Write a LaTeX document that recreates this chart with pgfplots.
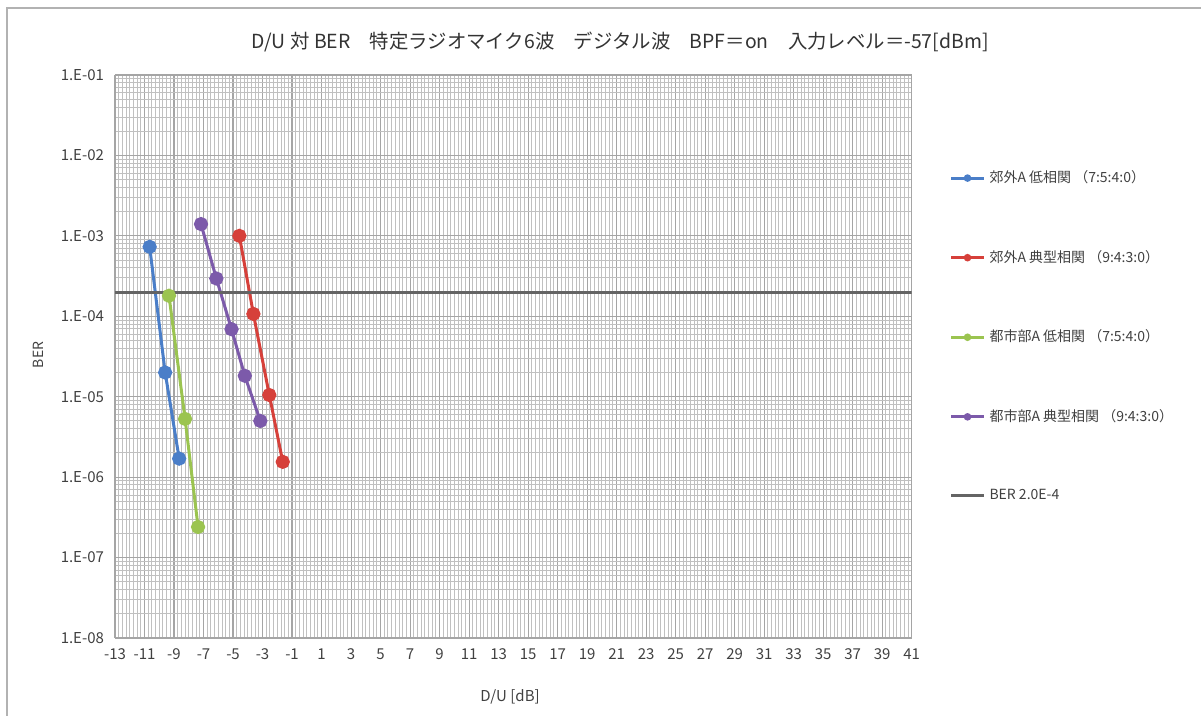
\documentclass[border=0pt]{standalone}
\usepackage{pgfplots}
\pgfplotsset{compat=1.18}
\usepackage{fontspec}
\setmainfont{Noto Sans CJK JP}
\definecolor{sblue}{RGB}{74,126,200}
\definecolor{sred}{RGB}{214,64,58}
\definecolor{sgreen}{RGB}{155,196,80}
\definecolor{spurple}{RGB}{124,90,170}
\definecolor{sgray}{RGB}{100,100,100}
\definecolor{gmaj}{RGB}{165,165,165}
\definecolor{gmin}{RGB}{192,192,192}
\begin{document}
\begin{tikzpicture}
\path[use as bounding box] (0,0) rectangle (600.5pt,358pt);
\draw[gray!60, line width=0.8pt] (3.5pt,0) -- (3.5pt,354pt) -- (600.5pt,354pt);
\begin{axis}[
  at={(57.5pt,39pt)}, anchor=south west,
  scale only axis, width=398.35pt, height=281.5pt,
  ymode=log, xmin=-13, xmax=41, ymin=1e-8, ymax=1e-1,
  xtick={-13,-11,...,41},
  xticklabels={-13,-11,-9,-7,-5,-3,-1,1,3,5,7,9,11,13,15,17,19,21,23,25,27,29,31,33,35,37,39,41},
  minor x tick num=7,
  ytick={1e-8,1e-7,1e-6,1e-5,1e-4,1e-3,1e-2,1e-1},
  yticklabels={1.E-08,1.E-07,1.E-06,1.E-05,1.E-04,1.E-03,1.E-02,1.E-01},
  grid=both,
  major grid style={gmaj, line width=0.55pt},
  minor grid style={gmin, line width=0.45pt},
  axis line style={gmaj},
  tick style={draw=none},
  tick label style={font=\fontsize{7.5}{8}\selectfont, text=black!75},
  xticklabel style={yshift=-2pt},
  yticklabel style={xshift=-2pt},
  legend style={at={(1.047,0.838)}, anchor=north west, draw=none, fill=none,
    font=\fontsize{7}{7.5}\selectfont, text=black!75, row sep=28.3pt, inner sep=0pt},
  legend cell align=left,
  legend image code/.code={\draw[mark repeat=2,mark phase=2,mark size=1.1pt] plot coordinates {(0cm,0cm) (0.29cm,0cm) (0.58cm,0cm)};},
]
\addplot[sblue, line width=1.5pt, mark=*, mark size=2.8pt] coordinates {(-10.65,7.3e-4) (-9.6,2.0e-5) (-8.65,1.7e-6)};
\addlegendentry{郊外A 低相関 （7:5:4:0）}
\addplot[sred, line width=1.5pt, mark=*, mark size=2.8pt] coordinates {(-4.57,1.0e-3) (-3.62,1.07e-4) (-2.54,1.05e-5) (-1.63,1.55e-6)};
\addlegendentry{郊外A 典型相関 （9:4:3:0）}
\addplot[sgreen, line width=1.5pt, mark=*, mark size=2.8pt] coordinates {(-9.34,1.8e-4) (-8.25,5.3e-6) (-7.37,2.4e-7)};
\addlegendentry{都市部A 低相関 （7:5:4:0）}
\addplot[spurple, line width=1.5pt, mark=*, mark size=2.8pt] coordinates {(-7.17,1.4e-3) (-6.13,2.95e-4) (-5.1,6.9e-5) (-4.2,1.82e-5) (-3.15,5.0e-6)};
\addlegendentry{都市部A 典型相関 （9:4:3:0）}
\addplot[sgray, line width=1.5pt] coordinates {(-13,2e-4) (41,2e-4)};
\addlegendentry{BER 2.0E-4}
\end{axis}
\node[font=\fontsize{9.7}{12}\selectfont, text=black!80] at (310pt,337pt) {D/U 対 BER\quad 特定ラジオマイク6波\quad デジタル波\quad BPF＝on\quad 入力レベル＝-57[dBm]};
\node[font=\fontsize{7.5}{8}\selectfont, text=black!75] at (255pt,9.5pt) {D/U [dB]};
\node[font=\fontsize{7}{8}\selectfont, text=black!75, rotate=90] at (19pt,180.5pt) {BER};
\end{tikzpicture}
\end{document}
